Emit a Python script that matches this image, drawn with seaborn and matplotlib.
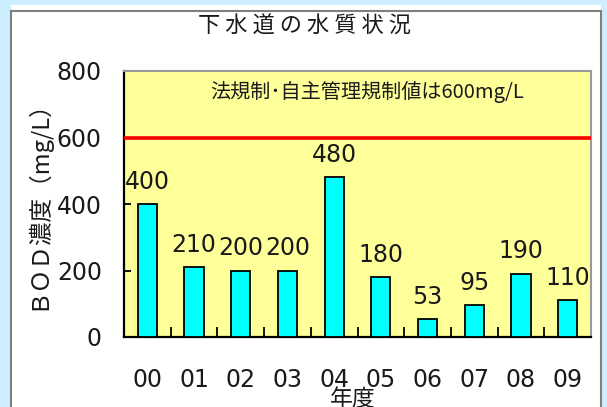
import matplotlib
matplotlib.use("Agg")
import matplotlib.pyplot as plt
from matplotlib.patches import Rectangle
from matplotlib.ticker import FixedLocator
import seaborn as sns
import pandas as pd

years = ["00", "01", "02", "03", "04", "05", "06", "07", "08", "09"]
bod = [400, 210, 200, 200, 480, 180, 53, 95, 190, 110]
limit_value = 600
title_text = "下 水 道 の 水 質 状 況"
limit_text = "法規制･自主管理規制値は600mg/L"
ylabel_text = "ＢＯＤ濃度（mg/L）"
xlabel_text = "年度"
yticks = [0, 200, 400, 600, 800]

sns.set_theme(style="white")
plt.rcParams["font.family"] = ["Noto Sans CJK JP", "DejaVu Sans"]
NUM_FONT = ["DejaVu Sans"]
TXT = "#1a1a1a"

W, H = 607, 407
fig = plt.figure(figsize=(W / 100, H / 100), dpi=100)
fig.patch.set_facecolor("#CCEEFF")

def fx(px):
    return px / W

def fy(py):
    return 1 - py / H

# white panel
fig.patches.append(Rectangle((fx(11), fy(10)), fx(590), 5 / H, transform=fig.transFigure,
                             facecolor="white", edgecolor="none", zorder=-2))
fig.patches.append(Rectangle((fx(10.5), fy(420)), fx(590.5), (420 - 10.5) / H, transform=fig.transFigure,
                             facecolor="white", edgecolor="#7f7f7f", linewidth=1.5, zorder=-2))

ax = fig.add_axes([fx(124), fy(337), fx(591 - 124), (337 - 71) / H])
ax.set_zorder(1)
ax.set_facecolor("#FFFF99")

df = pd.DataFrame({"year": years, "bod": bod})
sns.barplot(data=df, x="year", y="bod", color="#00FFFF", edgecolor="black",
            linewidth=1.3, width=0.41, saturation=1, ax=ax, zorder=3)

ax.axhline(limit_value, color="#FF0000", linewidth=2.6, zorder=4)

for c in ax.containers:
    ax.bar_label(c, labels=[str(v) for v in bod], padding=7.5, fontsize=17, color=TXT,
                 family=NUM_FONT)

ax.set_ylim(0, 800)
ax.set_xlim(-0.5, len(years) - 0.5)
ax.set_yticks(yticks)
ax.set_yticklabels([str(t) for t in yticks], fontsize=17, color=TXT, family=NUM_FONT)
ax.set_xticks(range(len(years)))
ax.set_xticklabels(years, fontsize=17, color=TXT, family=NUM_FONT)
ax.tick_params(axis="y", direction="in", length=5, width=1.3, color="black", pad=16, left=True)
ax.tick_params(axis="x", which="major", length=0, pad=22)
ax.xaxis.set_minor_locator(FixedLocator([i + 0.5 for i in range(len(years) - 1)]))
ax.tick_params(axis="x", which="minor", direction="in", length=7, width=1.3, color="black", bottom=True)

for s in ["left", "bottom"]:
    ax.spines[s].set_color("black")
    ax.spines[s].set_linewidth(1.6)
for s in ["top", "right"]:
    ax.spines[s].set_color("#999999")
    ax.spines[s].set_linewidth(1.5)

ax.set_ylabel(ylabel_text, fontsize=17, color=TXT)
ax.yaxis.set_label_coords(-0.16, 0.52)
ax.set_xlabel(xlabel_text, fontsize=16.5, color=TXT)
ax.xaxis.set_label_coords(0.49, -0.19)

ax.text(0.52, 0.92, limit_text, transform=ax.transAxes, ha="center", va="center",
        fontsize=14.5, color=TXT)

fig.text(fx(304), fy(26), title_text, ha="center", va="center", fontsize=16, color=TXT)

fig.savefig("out.png", dpi=100, facecolor=fig.get_facecolor())
